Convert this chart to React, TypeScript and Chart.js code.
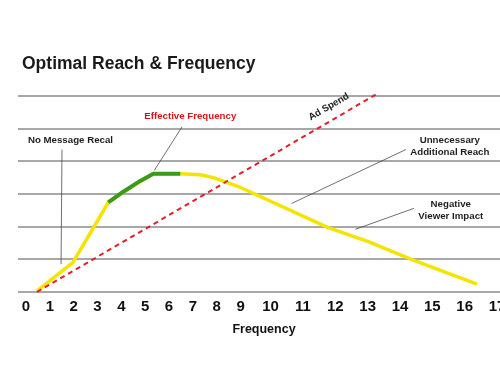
import React, { useEffect, useRef } from 'react';
import { Chart, LinearScale, registerables } from 'chart.js';

// ---------- data ----------
const chartTitle = 'Optimal Reach & Frequency';
const xAxisTitle = 'Frequency';
const xTickValues = [0, 1, 2, 3, 4, 5, 6, 7, 8, 9, 10, 11, 12, 13, 14, 15, 16, 17];
const xTickLabels = ['0', '1', '2', '3', '4', '5', '6', '7', '8', '9', '10', '11', '12', '13', '14', '15', '16', '17'];

// Reach curve (yellow)
const reachX = [0.46, 1.97, 3.45, 4.08, 4.79, 5.34, 6.47, 7.31, 7.86, 9.0, 11.76, 13.0, 14.43, 16.38];
const reachY = [0.03, 0.91, 2.74, 3.05, 3.38, 3.62, 3.62, 3.59, 3.5, 3.2, 1.98, 1.55, 0.97, 0.24];

// Effective frequency segment (green)
const effectiveX = [3.45, 4.08, 4.79, 5.34, 6.47];
const effectiveY = [2.74, 3.07, 3.4, 3.62, 3.62];

// Ad spend (red dashed)
const adSpendX = [0.46, 13.28];
const adSpendY = [0.0, 6.06];

const adSpendLabel = 'Ad Spend';
const noteTexts = [['No Message Recal'], ['Effective Frequency'], ['Unnecessary', 'Additional Reach'], ['Negative', 'Viewer Impact']];

// ---------- layout / annotation config (data units) ----------
const noteConfig = [
  { align: 'left', x: 0.08, y: 4.63, color: '#1e1e1e', line: [1.51, 4.36, 1.47, 0.85] },
  { align: 'center', x: 6.89, y: 5.39, color: '#d7141c', line: [6.55, 5.06, 5.38, 3.72] },
  { align: 'center', x: 15.54, y: 4.63, color: '#1e1e1e', line: [14.18, 4.36, 10.65, 2.71] },
  { align: 'center', x: 15.57, y: 2.68, color: '#1e1e1e', line: [14.43, 2.56, 12.62, 1.92] },
];
const adSpendLabelPos = { x: 11.8, y: 5.67 };

// ---------- warped linear scale (uneven tick spacing as in the reference) ----------
const WARP_V = [0, 9, 10, 17];
const WARP_U = [0, 9, 10.26, 19.76];
function warp(v: number): number {
  const n = WARP_V.length;
  let i = 0;
  if (v <= WARP_V[1]) i = 0;
  else if (v >= WARP_V[n - 2]) i = n - 2;
  else { for (i = 0; i < n - 1; i++) if (v >= WARP_V[i] && v <= WARP_V[i + 1]) break; }
  const t = (v - WARP_V[i]) / (WARP_V[i + 1] - WARP_V[i]);
  return WARP_U[i] + t * (WARP_U[i + 1] - WARP_U[i]);
}
function unwarp(u: number): number {
  const n = WARP_U.length;
  let i = 0;
  if (u <= WARP_U[1]) i = 0;
  else if (u >= WARP_U[n - 2]) i = n - 2;
  else { for (i = 0; i < n - 1; i++) if (u >= WARP_U[i] && u <= WARP_U[i + 1]) break; }
  const t = (u - WARP_U[i]) / (WARP_U[i + 1] - WARP_U[i]);
  return WARP_V[i] + t * (WARP_V[i + 1] - WARP_V[i]);
}

class WarpedLinearScale extends LinearScale {
  static id = 'warpedLinear';
  static defaults = (LinearScale as any).defaults;
  getPixelForValue(value: number) {
    if (value === null || value === undefined || isNaN(value)) return NaN;
    const u0 = warp((this as any).min);
    const u1 = warp((this as any).max);
    return (this as any).getPixelForDecimal((warp(value) - u0) / (u1 - u0));
  }
  getValueForPixel(pixel: number) {
    const u0 = warp((this as any).min);
    const u1 = warp((this as any).max);
    return unwarp(u0 + (this as any).getDecimalForPixel(pixel) * (u1 - u0));
  }
}

Chart.register(...registerables, WarpedLinearScale as any);

const FONT = '"Liberation Sans", Arial, sans-serif';

const annotationPlugin = {
  id: 'reachAnnotations',
  afterDatasetsDraw(chart: any) {
    const { ctx, scales } = chart;
    const xs = scales.x;
    const ys = scales.y;
    const px = (v: number) => xs.getPixelForValue(v);
    const py = (v: number) => ys.getPixelForValue(v);
    ctx.save();

    // title
    ctx.font = `bold 17.5px ${FONT}`;
    ctx.fillStyle = '#1a1a1a';
    ctx.textAlign = 'left';
    ctx.textBaseline = 'middle';
    ctx.fillText(chartTitle, chart.chartArea.left + 4, 64);

    // callouts
    noteConfig.forEach((cfg, i) => {
      const [x1, y1, x2, y2] = cfg.line;
      ctx.strokeStyle = '#4a4a4a';
      ctx.lineWidth = 0.8;
      ctx.beginPath();
      ctx.moveTo(px(x1), py(y1));
      ctx.lineTo(px(x2), py(y2));
      ctx.stroke();

      ctx.font = `bold 9.7px ${FONT}`;
      ctx.fillStyle = cfg.color;
      ctx.textAlign = cfg.align;
      ctx.textBaseline = 'middle';
      noteTexts[i].forEach((t, k) => {
        ctx.fillText(t, px(cfg.x), py(cfg.y) + k * 12);
      });
    });

    // Ad Spend label rotated along the red line
    const ax0 = px(adSpendX[0]), ay0 = py(adSpendY[0]);
    const ax1 = px(adSpendX[1]), ay1 = py(adSpendY[1]);
    const ang = Math.atan2(ay1 - ay0, ax1 - ax0);
    ctx.translate(px(adSpendLabelPos.x), py(adSpendLabelPos.y));
    ctx.rotate(ang);
    ctx.font = `bold 9.7px ${FONT}`;
    ctx.fillStyle = '#1e1e1e';
    ctx.textAlign = 'center';
    ctx.textBaseline = 'middle';
    ctx.fillText(adSpendLabel, 0, 0);
    ctx.restore();
  },
};

export default function App() {
  const canvasRef = useRef<HTMLCanvasElement | null>(null);

  useEffect(() => {
    if (!canvasRef.current) return;
    const toPts = (xa: number[], ya: number[]) => xa.map((x, i) => ({ x, y: ya[i] }));
    const chart = new Chart(canvasRef.current, {
      type: 'line',
      data: {
        datasets: [
          {
            label: 'Ad Spend',
            data: toPts(adSpendX, adSpendY),
            borderColor: '#e0202a',
            borderWidth: 2,
            borderDash: [5, 4],
            pointRadius: 0,
            tension: 0,
            fill: false,
            clip: false,
            order: 0,
          },
          {
            label: 'Effective Frequency',
            data: toPts(effectiveX, effectiveY),
            borderColor: '#3a9a1c',
            borderWidth: 4,
            pointRadius: 0,
            tension: 0,
            fill: false,
            clip: false,
            borderJoinStyle: 'round',
            order: 1,
          },
          {
            label: 'Reach',
            data: toPts(reachX, reachY),
            borderColor: '#f4e400',
            borderWidth: 3.5,
            pointRadius: 0,
            tension: 0,
            fill: false,
            clip: false,
            borderJoinStyle: 'round',
            order: 2,
          },
        ],
      } as any,
      options: {
        responsive: false,
        animation: false,
        devicePixelRatio: 1,
        parsing: false,
        layout: { padding: { left: 18, right: 20, top: 96, bottom: 46 } },
        plugins: {
          legend: { display: false },
          tooltip: { enabled: false },
          title: { display: false },
        },
        scales: {
          x: {
            type: 'warpedLinear' as any,
            min: -0.336,
            max: 17.4,
            afterBuildTicks: (axis: any) => {
              axis.ticks = xTickValues.map((v) => ({ value: v }));
            },
            grid: { display: false, drawTicks: false },
            border: { display: false },
            ticks: {
              autoSkip: false,
              maxRotation: 0,
              padding: 6,
              color: '#111',
              font: { family: FONT, size: 15, weight: 'bold' },
              callback: (value: any) => {
                const idx = xTickValues.indexOf(Number(value));
                return idx >= 0 ? xTickLabels[idx] : '';
              },
            },
            title: {
              display: true,
              text: xAxisTitle,
              color: '#111',
              font: { family: FONT, size: 12.5, weight: 'bold' },
              padding: { top: 0, bottom: 0 },
            },
          },
          y: {
            type: 'linear',
            min: 0,
            max: 6,
            ticks: { display: false, stepSize: 1 },
            grid: { color: '#a8a8a8', lineWidth: 2, drawTicks: false },
            border: { display: false },
          },
        } as any,
      },
      plugins: [annotationPlugin],
    } as any);
    return () => chart.destroy();
  }, []);

  return (
    <div
      style={{
        position: 'fixed',
        left: 0,
        top: 0,
        width: 500,
        height: 383,
        overflow: 'hidden',
        background: '#ffffff',
      }}
    >
      <canvas ref={canvasRef} width={530} height={383} style={{ display: 'block', width: 530, height: 383 }} />
    </div>
  );
}
